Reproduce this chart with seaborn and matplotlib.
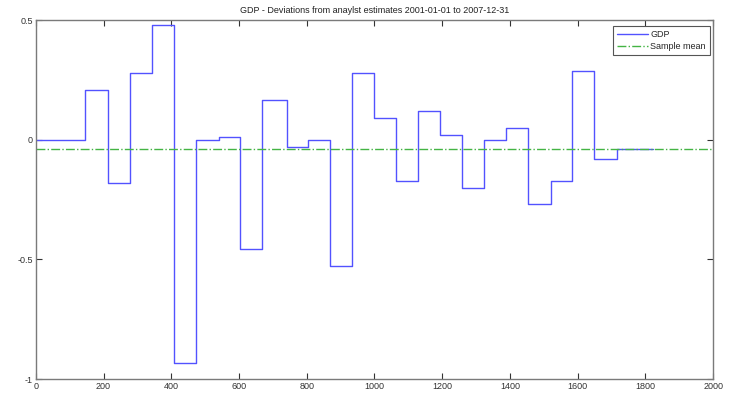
import numpy as np
import pandas as pd
import matplotlib
matplotlib.use("Agg")
import matplotlib.pyplot as plt
import seaborn as sns

# Trading-day index where each new GDP surprise takes effect, plus the final day
release_day = [0, 146, 213, 278, 343, 408, 473, 542, 603, 668, 741, 803, 869,
               934, 1000, 1064, 1129, 1194, 1258, 1323, 1389, 1454, 1520, 1584,
               1648, 1715, 1823]
# Deviation of released GDP from analyst consensus, held until the next release
surprise = [0.0, 0.208, -0.179, 0.278, 0.48, -0.935, 0.0, 0.01, -0.458, 0.168,
            -0.031, 0.0, -0.529, 0.279, 0.09, -0.171, 0.119, 0.018, -0.2, 0.0,
            0.048, -0.268, -0.171, 0.2875, -0.081, -0.04]

x_ticks = [0, 200, 400, 600, 800, 1000, 1200, 1400, 1600, 1800, 2000]
y_ticks = [-1, -0.5, 0, 0.5]
y_tick_labels = ["-1", "-0.5", "0", "0.5"]

sns.set_style("white")
plt.rcParams["font.family"] = ["Liberation Sans", "DejaVu Sans"]

df = pd.DataFrame({"day": release_day, "gdp": surprise + [surprise[-1]]})
sample_mean = np.average(surprise, weights=np.diff(release_day))

fig = plt.figure(figsize=(7.30, 3.94), dpi=100)
ax = fig.add_axes([0.049, 0.038, 0.928, 0.911])

sns.lineplot(data=df, x="day", y="gdp", ax=ax, drawstyle="steps-post",
             color="#5252ff", linewidth=1.0, label="GDP")
ax.axhline(sample_mean, color="#44b444", linestyle="-.", linewidth=1.0,
           label="Sample mean")

ax.set_xlim(0, 2000)
ax.set_ylim(-1, 0.5)
ax.set_xticks(x_ticks)
ax.set_xticklabels([str(t) for t in x_ticks])
ax.set_yticks(y_ticks)
ax.set_yticklabels(y_tick_labels)
ax.set_xlabel("")
ax.set_ylabel("")

axis_grey = "#7a7a7a"
for side in ["left", "right", "top", "bottom"]:
    ax.spines[side].set_visible(True)
    ax.spines[side].set_color(axis_grey)
    ax.spines[side].set_linewidth(1.0)
ax.tick_params(axis="both", direction="in", length=4, width=0.8,
               color="#333333", labelsize=6.5, labelcolor="#333333",
               top=True, right=True, bottom=True, left=True, pad=2)

ax.set_title("GDP - Deviations from anaylst estimates 2001-01-01 to 2007-12-31",
             fontsize=6.5, color="#222222", pad=5)

leg = ax.legend(loc="upper right", bbox_to_anchor=(0.995, 0.983),
                fontsize=6.5, frameon=True, fancybox=False,
                edgecolor="#555555", framealpha=1.0, borderpad=0.45,
                handlelength=3.4, handletextpad=0.3, labelspacing=0.35,
                borderaxespad=0.0)
leg.get_frame().set_linewidth(0.8)

fig.savefig("out.png", dpi=100, facecolor="white")
